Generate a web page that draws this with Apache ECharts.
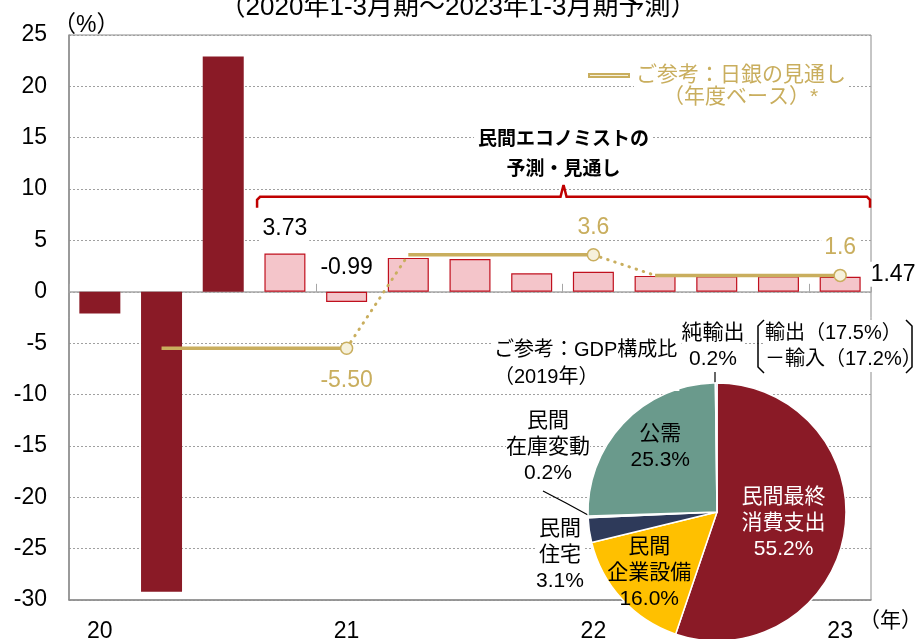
<!DOCTYPE html>
<html>
<head>
<meta charset="utf-8">
<script src="https://cdn.jsdelivr.net/npm/echarts@6/dist/echarts.min.js"></script>
<style>
html, body { margin: 0; padding: 0; background: #fff; }
#chart { width: 916px; height: 639px; }
</style>
</head>
<body>
<div id="chart"></div>
<script>
// 実質GDP成長率（前期比年率, %）
const quarters = ['2020Q1', '2020Q2', '2020Q3', '2020Q4', '2021Q1', '2021Q2', '2021Q3', '2021Q4',
    '2022Q1', '2022Q2', '2022Q3', '2022Q4', '2023Q1'];
const yearLabels = ['20', '21', '22', '23'];
const gdpGrowth = [-2.1, -29.2, 22.9, 3.73, -0.99, 3.3, 3.2, 1.8, 1.95, 1.55, 1.5, 1.5, 1.47];
const actualCount = 3; // 実績（残りは民間エコノミスト予測）
const labeledBars = [3, 4, 12];

// 日銀の見通し（年度ベース）: 2020/2021/2022年度
const bojFY = [-5.5, 3.6, 1.6];
const bojLabels = ['-5.50', '3.6', '1.6'];
const fyStart = [1, 5, 9]; // 各年度の最初の四半期（4-6月期）

// GDP構成比（2019年）
const pieNames = ['民間最終\n消費支出', '民間\n企業設備', '民間\n住宅', '民間\n在庫変動', '公需', '純輸出'];
const pieValues = [55.2, 16.0, 3.1, 0.2, 25.3, 0.2];

const FONT = "'Liberation Sans', 'Noto Sans CJK JP', sans-serif";
const GOLD = '#C9AE5E';
const DARK = '#8A1A26';

let myChart = echarts.init(document.getElementById('chart'));

// 棒グラフ
let barData = gdpGrowth.map(function (v, i) {
    let item = {
        value: v,
        itemStyle: i < actualCount
            ? { color: DARK }
            : { color: '#F4C5CA', borderColor: '#C0101E', borderWidth: 1.2 }
    };
    if (labeledBars.indexOf(i) >= 0) {
        item.label = {
            show: true,
            formatter: v.toFixed(2),
            fontSize: 23,
            color: '#000',
            fontFamily: FONT,
            backgroundColor: '#fff',
            padding: [1, 2],
            position: i === 12 ? 'right' : 'top',
            distance: i === 12 ? 8 : 12,
            offset: i === 12 ? [0, -10] : [0, 0]
        };
    }
    return item;
});

// 日銀見通し：年度ごとの実線
let bojSeries = bojFY.map(function (v, k) {
    let data = quarters.map(function () { return '-'; });
    for (let q = 0; q < 4; q++) {
        let idx = fyStart[k] + q;
        if (q === 3) {
            data[idx] = {
                value: v,
                symbol: 'circle',
                symbolSize: 12,
                label: {
                    show: true,
                    formatter: bojLabels[k],
                    position: k === 0 ? 'bottom' : 'top',
                    distance: k === 0 ? 14 : 9,
                    color: GOLD,
                    fontSize: 23,
                    fontFamily: FONT,
                    backgroundColor: '#fff',
                    padding: [0, 3]
                }
            };
        } else {
            data[idx] = { value: v, symbol: 'none' };
        }
    }
    return {
        name: 'ご参考：日銀の見通し',
        type: 'line',
        data: data,
        z: 5,
        lineStyle: { color: GOLD, width: 3.5 },
        itemStyle: { color: '#F6F1DC', borderColor: GOLD, borderWidth: 1.5 },
        emphasis: { disabled: true }
    };
});

// 年度間をつなぐ点線
let dotted = quarters.map(function () { return '-'; });
for (let k = 0; k < bojFY.length - 1; k++) {
    dotted[fyStart[k] + 3] = bojFY[k];
    dotted[fyStart[k + 1]] = bojFY[k + 1];
}

let pieLayout = {
    0: { dx: 0, dy: 0 },
    1: { dx: -18, dy: 16 },
    4: { dx: -8, dy: -18 }
};

let option = {
    animation: false,
    textStyle: { fontFamily: FONT },
    title: {
        text: '（2020年1-3月期～2023年1-3月期予測）',
        left: 'center',
        top: -10,
        textStyle: { fontSize: 26, fontWeight: 'normal', color: '#000', fontFamily: FONT }
    },
    legend: {
        data: ['ご参考：日銀の見通し'],
        left: 583,
        top: 58,
        icon: 'rect',
        itemWidth: 40,
        itemHeight: 3,
        itemGap: 6,
        textStyle: {
            color: GOLD, fontSize: 21, fontFamily: FONT,
            backgroundColor: '#fff', padding: [2, 2]
        }
    },
    graphic: [
        {
            type: 'text', left: 663, top: 87, z: 10,
            style: {
                text: '（年度ベース）*', fill: GOLD, font: '21px ' + FONT,
                backgroundColor: '#fff'
            }
        },
        {
            type: 'text', left: 492, top: 337, z: 10,
            style: {
                text: 'ご参考：GDP構成比\n（2019年）', fill: '#000', font: '20px ' + FONT,
                align: 'center', lineHeight: 27, backgroundColor: '#fff', padding: [0, 2]
            }
        },
        {
            type: 'text', left: 765, top: 320, z: 10,
            style: {
                text: '輸出（17.5%）\n－輸入（17.2%）', fill: '#000', font: '20px ' + FONT,
                lineHeight: 26, backgroundColor: '#fff'
            }
        },
        {
            type: 'polyline', z: 10,
            shape: { points: [[764, 320], [758, 326], [758, 367], [764, 373]] },
            style: { stroke: '#000', lineWidth: 1.5, fill: null }
        },
        {
            type: 'polyline', z: 10,
            shape: { points: [[906, 320], [912, 326], [912, 367], [906, 373]] },
            style: { stroke: '#000', lineWidth: 1.5, fill: null }
        }
    ],
    grid: {
        left: 69, right: 45, top: 35, bottom: 39,
        containLabel: false,
        outerBoundsMode: 'none',
        show: true, borderColor: '#8c8c8c', borderWidth: 1
    },
    xAxis: [
        {
            type: 'category',
            data: quarters,
            position: 'bottom',
            axisLine: { onZero: false, lineStyle: { color: '#8c8c8c', width: 1.5 } },
            axisTick: { show: false },
            axisLabel: {
                interval: function (i) { return i % 4 === 0; },
                formatter: function (val, i) { return yearLabels[Math.floor(i / 4)]; },
                color: '#000', fontSize: 23, margin: 20, fontFamily: FONT
            },
            name: '（年）',
            nameLocation: 'end',
            nameGap: 1,
            nameTextStyle: {
                color: '#000', fontSize: 21, fontFamily: FONT,
                verticalAlign: 'top', padding: [11, 0, 0, -13]
            }
        },
        {
            type: 'category',
            data: quarters,
            position: 'top',
            axisLine: { onZero: true, lineStyle: { color: '#a6a6a6', width: 1.5 } },
            axisTick: {
                show: true, inside: false, length: 8,
                interval: function (i) { return i % 4 === 0; },
                lineStyle: { color: '#a6a6a6' }
            },
            axisLabel: { show: false }
        }
    ],
    yAxis: {
        type: 'value',
        min: -30,
        max: 25,
        interval: 5,
        axisLine: { show: true, lineStyle: { color: '#8c8c8c', width: 1.5 } },
        axisTick: { show: false },
        axisLabel: { color: '#000', fontSize: 23, margin: 22, fontFamily: FONT },
        splitLine: { lineStyle: { color: '#a0a0a0', type: [2, 2], width: 1 } },
        name: '（%）',
        nameLocation: 'end',
        nameGap: 0,
        nameTextStyle: { color: '#000', fontSize: 23, fontFamily: FONT, align: 'left', padding: [0, 0, -2, -16] }
    },
    series: [
        {
            name: '実質GDP成長率',
            type: 'bar',
            data: barData,
            barWidth: 41,
            emphasis: { disabled: true }
        }
    ].concat(bojSeries, [
        {
            name: '日銀見通し接続',
            type: 'line',
            data: dotted,
            symbol: 'none',
            z: 4,
            lineStyle: { color: GOLD, width: 3, type: [0.5, 7], cap: 'round' },
            emphasis: { disabled: true }
        },
        {
            // 民間エコノミストの予測・見通し の括弧
            name: '予測範囲',
            type: 'custom',
            z: 6,
            data: [[3, 12]],
            encode: { x: [0, 1] },
            renderItem: function (params, api) {
                let bw = api.size([1, 0])[0];
                let x0 = api.coord([api.value(0), 0])[0] - bw / 2 + 3;
                let x1 = api.coord([api.value(1), 0])[0] + bw / 2 - 1;
                let y = api.coord([0, 9.25])[1];
                let xm = (x0 + x1) / 2;
                return {
                    type: 'group',
                    children: [
                        {
                            type: 'polyline',
                            shape: {
                                points: [[x0, y + 11], [x0, y + 3], [x0 + 3, y], [xm - 3, y], [xm, y - 12],
                                    [xm + 3, y], [x1 - 3, y], [x1, y + 3], [x1, y + 11]]
                            },
                            style: { stroke: '#C00000', lineWidth: 2.5, fill: null }
                        },
                        {
                            type: 'text',
                            style: {
                                text: '民間エコノミストの\n予測・見通し',
                                x: xm, y: y - 12,
                                align: 'center', verticalAlign: 'bottom',
                                font: 'bold 19px ' + FONT,
                                lineHeight: 30,
                                fill: '#000',
                                backgroundColor: '#fff',
                                padding: [0, 4]
                            }
                        }
                    ]
                };
            }
        },
        {
            name: 'GDP構成比',
            type: 'pie',
            center: [717, 512],
            radius: 129,
            startAngle: 90,
            clockwise: true,
            z: 8,
            color: [DARK, '#FFC000', '#2E3A5A', '#BFBFBF', '#6A9A8C', '#5B5BEF'],
            itemStyle: { borderColor: '#fff', borderWidth: 1.5 },
            emphasis: { disabled: true },
            label: {
                show: true,
                position: 'inside',
                fontSize: 21,
                lineHeight: 26,
                color: '#000',
                fontFamily: FONT,
                formatter: function (p) { return p.name + '\n' + p.value.toFixed(1) + '%'; }
            },
            labelLine: { show: false },
            data: pieNames.map(function (n, i) {
                let item = { name: n, value: pieValues[i] };
                if (i === 0) {
                    item.label = { color: '#fff' };
                }
                if (i === 2 || i === 3 || i === 5) {
                    item.label = { position: 'outside', backgroundColor: '#fff' };
                    item.labelLine = { show: i !== 2, lineStyle: { color: '#000', width: 1.2 } };
                }
                return item;
            }),
            labelLayout: function (p) {
                if (p.dataIndex === 2) {
                    return { x: 560, y: 555, align: 'center', verticalAlign: 'middle' };
                }
                if (p.dataIndex === 3) {
                    return {
                        x: 548, y: 447, align: 'center', verticalAlign: 'middle',
                        labelLinePoints: [[588, 515], [566, 503], [543, 491]]
                    };
                }
                if (p.dataIndex === 5) {
                    return {
                        x: 713, y: 346, align: 'center', verticalAlign: 'middle',
                        labelLinePoints: [[715, 384], [715, 376], [715, 369]]
                    };
                }
                return pieLayout[p.dataIndex] || {};
            }
        }
    ])
};
myChart.setOption(option);
</script>
</body>
</html>
